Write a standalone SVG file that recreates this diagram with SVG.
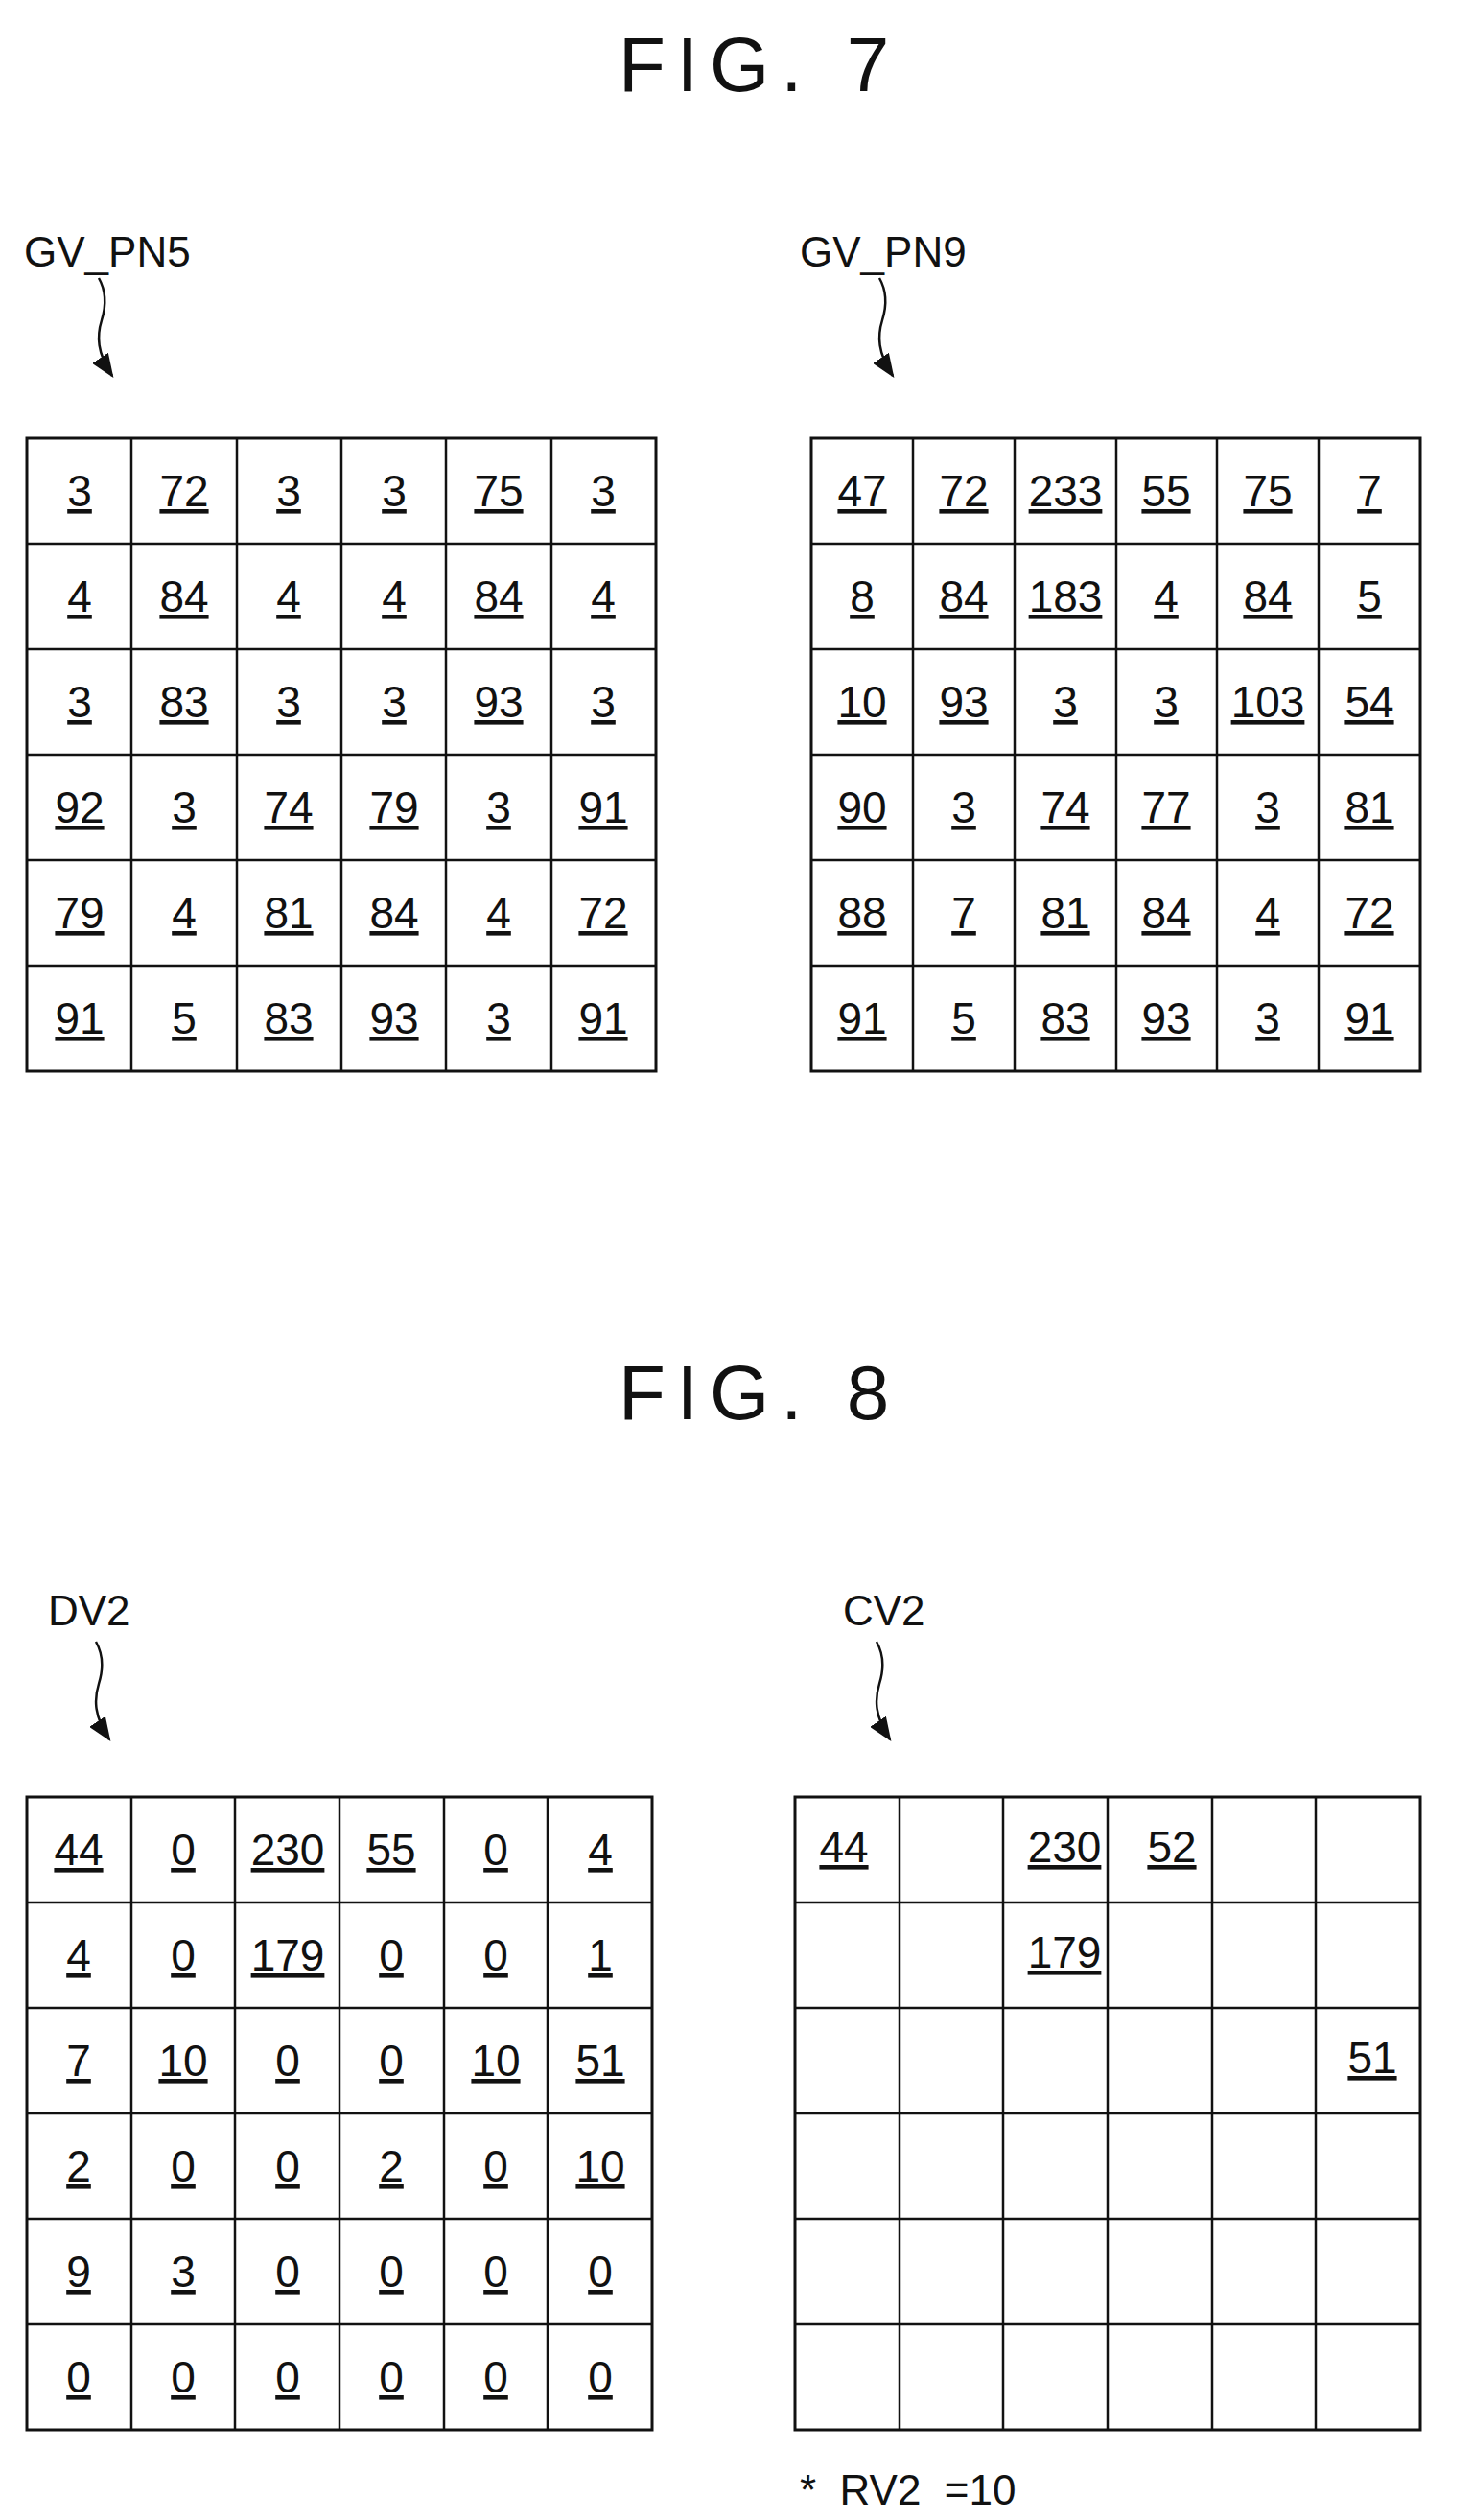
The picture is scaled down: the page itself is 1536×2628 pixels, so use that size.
<svg xmlns="http://www.w3.org/2000/svg" width="1536" height="2628" viewBox="0 0 1536 2628">
<style>
.t{font-family:"Liberation Sans",Arial,sans-serif;fill:#111}
.title{font-size:80px;letter-spacing:12px}
.lbl{font-size:44px}
.n{font-size:46px;text-anchor:middle;text-decoration:underline}
.g{fill:#fff;stroke:#111;stroke-width:3}
.gl{stroke:#111;stroke-width:2.5}
.ar{fill:none;stroke:#111;stroke-width:2.5}
</style>
<defs>
<marker id="ah" markerWidth="10" markerHeight="8" refX="9" refY="4" orient="auto" markerUnits="strokeWidth"><path d="M0,0 L10,4 L0,8 Z" fill="#111"/></marker>
<path id="wv" d="M0,0 C8,14 8,28 3,44 C-2,60 -2,78 14,102"/>
</defs>
<rect width="1536" height="2628" fill="#fff"/>
<text class="t title" x="645" y="95">FIG. 7</text>
<text class="t title" x="645" y="1480">FIG. 8</text>
<g id="connectors">
<use href="#wv" class="ar" x="103" y="290" marker-end="url(#ah)"/>
<use href="#wv" class="ar" x="917" y="290" marker-end="url(#ah)"/>
<use href="#wv" class="ar" x="100" y="1712" marker-end="url(#ah)"/>
<use href="#wv" class="ar" x="914" y="1712" marker-end="url(#ah)"/>
</g>
<g id="GV_PN5">
<text class="t lbl" x="25" y="278">GV_PN5</text>
<rect class="g" x="28" y="457" width="656" height="660"/>
<path class="gl" d="M137,457V1117M247,457V1117M356,457V1117M465,457V1117M575,457V1117M28,567H684M28,677H684M28,787H684M28,897H684M28,1007H684"/>
<g class="t n">
<text x="83" y="528">3</text><text x="192" y="528">72</text><text x="301" y="528">3</text><text x="411" y="528">3</text><text x="520" y="528">75</text><text x="629" y="528">3</text>
<text x="83" y="638">4</text><text x="192" y="638">84</text><text x="301" y="638">4</text><text x="411" y="638">4</text><text x="520" y="638">84</text><text x="629" y="638">4</text>
<text x="83" y="748">3</text><text x="192" y="748">83</text><text x="301" y="748">3</text><text x="411" y="748">3</text><text x="520" y="748">93</text><text x="629" y="748">3</text>
<text x="83" y="858">92</text><text x="192" y="858">3</text><text x="301" y="858">74</text><text x="411" y="858">79</text><text x="520" y="858">3</text><text x="629" y="858">91</text>
<text x="83" y="968">79</text><text x="192" y="968">4</text><text x="301" y="968">81</text><text x="411" y="968">84</text><text x="520" y="968">4</text><text x="629" y="968">72</text>
<text x="83" y="1078">91</text><text x="192" y="1078">5</text><text x="301" y="1078">83</text><text x="411" y="1078">93</text><text x="520" y="1078">3</text><text x="629" y="1078">91</text>
</g>
</g>
<g id="GV_PN9">
<text class="t lbl" x="834" y="278">GV_PN9</text>
<rect class="g" x="846" y="457" width="635" height="660"/>
<path class="gl" d="M952,457V1117M1058,457V1117M1164,457V1117M1269,457V1117M1375,457V1117M846,567H1481M846,677H1481M846,787H1481M846,897H1481M846,1007H1481"/>
<g class="t n">
<text x="899" y="528">47</text><text x="1005" y="528">72</text><text x="1111" y="528">233</text><text x="1216" y="528">55</text><text x="1322" y="528">75</text><text x="1428" y="528">7</text>
<text x="899" y="638">8</text><text x="1005" y="638">84</text><text x="1111" y="638">183</text><text x="1216" y="638">4</text><text x="1322" y="638">84</text><text x="1428" y="638">5</text>
<text x="899" y="748">10</text><text x="1005" y="748">93</text><text x="1111" y="748">3</text><text x="1216" y="748">3</text><text x="1322" y="748">103</text><text x="1428" y="748">54</text>
<text x="899" y="858">90</text><text x="1005" y="858">3</text><text x="1111" y="858">74</text><text x="1216" y="858">77</text><text x="1322" y="858">3</text><text x="1428" y="858">81</text>
<text x="899" y="968">88</text><text x="1005" y="968">7</text><text x="1111" y="968">81</text><text x="1216" y="968">84</text><text x="1322" y="968">4</text><text x="1428" y="968">72</text>
<text x="899" y="1078">91</text><text x="1005" y="1078">5</text><text x="1111" y="1078">83</text><text x="1216" y="1078">93</text><text x="1322" y="1078">3</text><text x="1428" y="1078">91</text>
</g>
</g>
<g transform="translate(0,12)">
<g id="DV2">
<text class="t lbl" x="50" y="1683">DV2</text>
<rect class="g" x="28" y="1862" width="652" height="660"/>
<path class="gl" d="M137,1862V2522M245,1862V2522M354,1862V2522M463,1862V2522M571,1862V2522M28,1972H680M28,2082H680M28,2192H680M28,2302H680M28,2412H680"/>
<g class="t n">
<text x="82" y="1933">44</text><text x="191" y="1933">0</text><text x="300" y="1933">230</text><text x="408" y="1933">55</text><text x="517" y="1933">0</text><text x="626" y="1933">4</text>
<text x="82" y="2043">4</text><text x="191" y="2043">0</text><text x="300" y="2043">179</text><text x="408" y="2043">0</text><text x="517" y="2043">0</text><text x="626" y="2043">1</text>
<text x="82" y="2153">7</text><text x="191" y="2153">10</text><text x="300" y="2153">0</text><text x="408" y="2153">0</text><text x="517" y="2153">10</text><text x="626" y="2153">51</text>
<text x="82" y="2263">2</text><text x="191" y="2263">0</text><text x="300" y="2263">0</text><text x="408" y="2263">2</text><text x="517" y="2263">0</text><text x="626" y="2263">10</text>
<text x="82" y="2373">9</text><text x="191" y="2373">3</text><text x="300" y="2373">0</text><text x="408" y="2373">0</text><text x="517" y="2373">0</text><text x="626" y="2373">0</text>
<text x="82" y="2483">0</text><text x="191" y="2483">0</text><text x="300" y="2483">0</text><text x="408" y="2483">0</text><text x="517" y="2483">0</text><text x="626" y="2483">0</text>
</g>
</g>
<g id="CV2">
<text class="t lbl" x="879" y="1683">CV2</text>
<rect class="g" x="829" y="1862" width="652" height="660"/>
<path class="gl" d="M938,1862V2522M1046,1862V2522M1155,1862V2522M1264,1862V2522M1372,1862V2522M829,1972H1481M829,2082H1481M829,2192H1481M829,2302H1481M829,2412H1481"/>
<g class="t n">
<text x="880" y="1930">44</text><text x="1110" y="1930">230</text><text x="1222" y="1930">52</text>
<text x="1110" y="2040">179</text>
<text x="1431" y="2150">51</text>
</g>
</g>
<text class="t lbl" x="834" y="2600" xml:space="preserve">*  RV2  =10</text>
</g>
</svg>
